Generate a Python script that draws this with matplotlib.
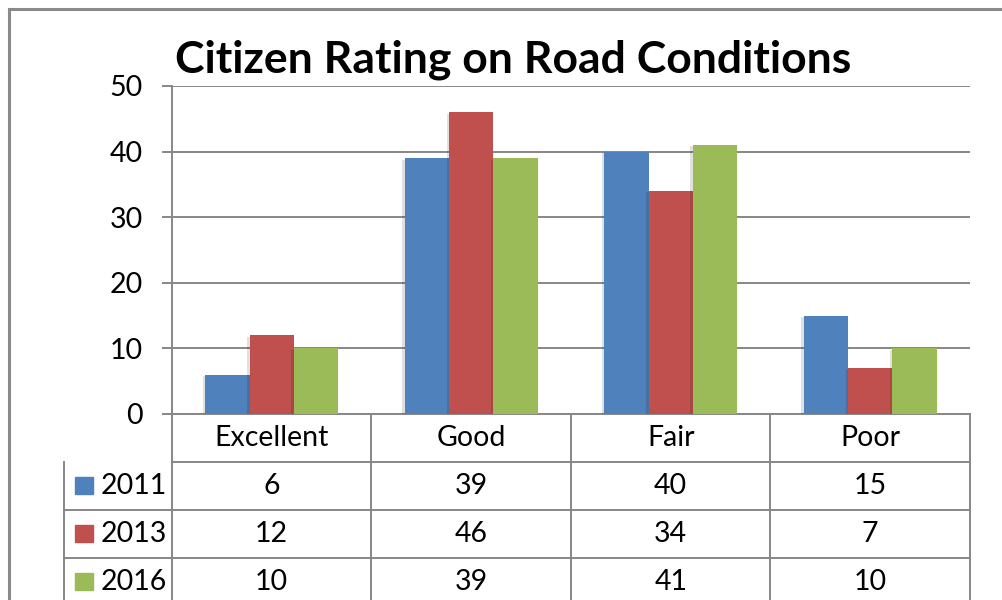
import numpy as np
import matplotlib
matplotlib.use("Agg")
import matplotlib.pyplot as plt
import matplotlib.transforms as mtransforms
import matplotlib.patheffects as pe
from matplotlib.patches import Rectangle
from matplotlib.lines import Line2D

# data
categories = ["Excellent", "Good", "Fair", "Poor"]
years = ["2011", "2013", "2016"]
r2011 = [6, 39, 40, 15]
r2013 = [12, 46, 34, 7]
r2016 = [10, 39, 41, 10]
colors = ["#4F81BD", "#C0504D", "#9BBB59"]
yticks = [0, 10, 20, 30, 40, 50]
title = "Citizen Rating on Road Conditions"

plt.rcParams["font.family"] = ["Lato", "DejaVu Sans"]
grid_c = "#878787"
fs = 20.5

fig = plt.figure(figsize=(10.03, 6), dpi=100)
ax = fig.add_axes([172 / 1003, 1 - 414 / 600, 798 / 1003, 328 / 600])

x = np.arange(len(categories))
w = 0.222
series = [r2011, r2013, r2016]
shadow = [pe.SimplePatchShadow(offset=(-1.8, -1.0), shadow_rgbFace="black", alpha=0.12), pe.Normal()]
for i, (vals, c) in enumerate(zip(series, colors)):
    bars = ax.bar(x + (i - 1) * w, vals, w, color=c, zorder=3)
    for b in bars:
        b.set_path_effects(shadow)

ax.set_xlim(-0.5, 3.5)
ax.set_ylim(0, 50)
ax.set_yticks(yticks)
ax.set_xticks([])
ax.yaxis.grid(True, color=grid_c, lw=1.4)
ax.set_axisbelow(True)
for s in ["top", "right"]:
    ax.spines[s].set_visible(False)
for s in ["left", "bottom"]:
    ax.spines[s].set_color(grid_c)
    ax.spines[s].set_linewidth(1.4)
ax.tick_params(axis="y", length=7.2, width=1.4, color=grid_c, labelsize=fs, pad=14)

# data table under the axis
tr = mtransforms.blended_transform_factory(ax.transData, ax.transAxes)
h = 0.146
left = -1.04
nrows = len(years)
lk = dict(color=grid_c, lw=1.4, transform=tr, clip_on=False)
for k in range(1, nrows + 2):
    ax.plot([left if k > 1 else -0.5, 3.5], [-k * h, -k * h], **lk)
for xv in [-0.5, 0.5, 1.5, 2.5, 3.5]:
    ax.plot([xv, xv], [0, -(nrows + 1) * h], **lk)
ax.plot([left, left], [-h, -(nrows + 1) * h], **lk)

for j, cat in enumerate(categories):
    ax.text(j, -h / 2, cat, ha="center", va="center", fontsize=fs, transform=tr)
for k, (yr, vals, c) in enumerate(zip(years, series, colors)):
    yc = -(k + 1.5) * h
    ax.add_patch(Rectangle((-0.986, yc - 0.026), 0.09, 0.052, color=c,
                           transform=tr, clip_on=False))
    ax.text(-0.856, yc, yr, ha="left", va="center", fontsize=fs, transform=tr)
    for j, v in enumerate(vals):
        ax.text(j, yc, str(v), ha="center", va="center", fontsize=fs, transform=tr)

# title and outer frame
fig.text(0.5115, 0.9, title, ha="center", va="center", fontsize=32, fontweight="bold")
fig.add_artist(Line2D([9 / 1003, 9 / 1003], [0, 1 - 9 / 600], color="#8a8a8a", lw=2.2))
fig.add_artist(Line2D([9 / 1003, 1], [1 - 9 / 600, 1 - 9 / 600], color="#8a8a8a", lw=2.2))

fig.savefig("out.png", dpi=100)
